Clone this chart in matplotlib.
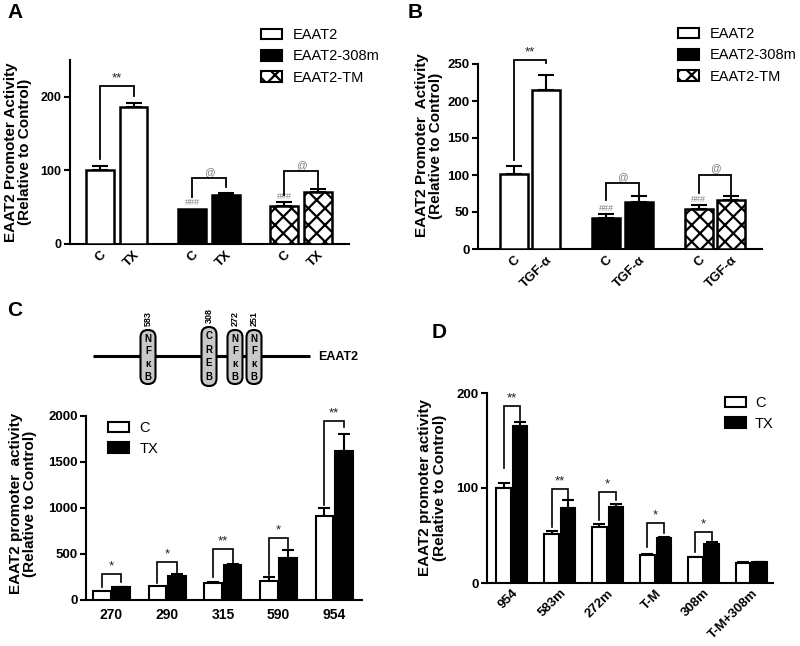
import matplotlib
matplotlib.use('Agg')
import matplotlib.pyplot as plt
import numpy as np
from matplotlib.patches import FancyBboxPatch, Patch

plt.rcParams['font.family'] = ['Liberation Sans', 'DejaVu Sans']
plt.rcParams['hatch.linewidth'] = 1.6
plt.rcParams['axes.linewidth'] = 1.5

# ---------------- data ----------------
# Panel A
a_series = ['EAAT2', 'EAAT2-308m', 'EAAT2-TM']
a_ticks = ['C', 'TX']
a_ctrl = [100, 48, 52]
a_ctrl_err = [6, 0, 5]
a_trt = [186, 67, 71]
a_trt_err = [5, 2, 3]
a_brackets = [(115, 201, 214, '**'), (64, 77, 89, '@'), (67, 77, 99, '@')]
a_hash = ['', '###', '###']

# Panel B
b_series = ['EAAT2', 'EAAT2-308m', 'EAAT2-TM']
b_ticks = ['C', 'TGF-α']
b_ctrl = [101, 42, 54]
b_ctrl_err = [11, 5, 5]
b_trt = [215, 64, 66]
b_trt_err = [20, 7, 5]
b_brackets = [(120, 251, 256, '**'), (66, 72, 89, '@'), (76, 72, 100, '@')]
b_hash = ['', '###', '###']

# Panel C
c_constructs = ['270', '290', '315', '590', '954']
c_ctrl = [100, 155, 185, 205, 910]
c_ctrl_err = [0, 0, 10, 40, 95]
c_trt = [140, 260, 380, 460, 1615]
c_trt_err = [5, 20, 10, 80, 185]
c_brackets = [(141, 196, 283, '*'), (185, 293, 413, '*'), (250, 391, 554, '**'),
              (272, 565, 674, '*'), (1032, 1880, 1945, '**')]
c_legend = ['C', 'TX']
site_numbers = ['583', '308', '272', '251']
site_factors = ['NFκB', 'CREB', 'NFκB', 'NFκB']

# Panel D
d_constructs = ['954', '583m', '272m', 'T-M', '308m', 'T-M+308m']
d_ctrl = [100, 52, 59, 30, 27, 21]
d_ctrl_err = [5, 3, 3, 0.5, 0.5, 1]
d_trt = [165, 79, 80, 47, 41, 22]
d_trt_err = [4, 8, 3, 1, 2, 0.5]
d_brackets = [(121, 172, 186, '**'), (59, 87, 99, '**'), (66, 87, 96, '*'),
              (38, 53, 63, '*'), (33, 45, 54, '*')]
d_legend = ['C', 'TX']

# ---------------- helpers ----------------
W, H = 800, 646
fig = plt.figure(figsize=(W / 100, H / 100), dpi=100)


def px_axes(l, r, top, bottom):
    return fig.add_axes([l / W, 1 - bottom / H, (r - l) / W, (bottom - top) / H])


def style_axes(ax, ymax_spine, yticks, fs=9.5, xfs=9.5):
    ax.spines['top'].set_visible(False)
    ax.spines['right'].set_visible(False)
    ax.spines['left'].set_bounds(0, ymax_spine)
    ax.set_yticks(yticks)
    ax.tick_params(axis='y', length=4, width=1.5, labelsize=fs, pad=2)
    ax.tick_params(axis='x', length=0, labelsize=xfs)
    for t in ax.get_yticklabels() + ax.get_xticklabels():
        t.set_fontweight('bold')
    ax.set_facecolor('none')


def errs(ax, x, y, e, capsize):
    x = np.asarray(x, float); y = np.asarray(y, float); e = np.asarray(e, float)
    m = e > 0
    ax.errorbar(x[m], y[m], yerr=[np.zeros(m.sum()), e[m]], fmt='none',
                ecolor='black', elinewidth=1.5, capsize=capsize, capthick=1.5, zorder=2)


def bracket(ax, x1, x2, y1, y2, ytop, label, color, fs, lw=1.3):
    ax.plot([x1, x1, x2, x2], [y1, ytop, ytop, y2], color='black', lw=lw,
            clip_on=False, zorder=4, solid_joinstyle='miter')
    ax.annotate(label, ((x1 + x2) / 2, ytop), xytext=(0, 1), textcoords='offset points',
                ha='center', va='bottom', fontsize=fs, color=color, annotation_clip=False)


group_styles = [('white', None), ('black', None), ('white', 'xx')]


def grouped_panel(ax, ctrl, ctrl_err, trt, trt_err, ticks, brackets, hashes,
                  off, width, capsize):
    g = np.arange(len(ctrl))
    for i in g:
        fc, hatch = group_styles[i]
        ax.bar([i - off, i + off], [ctrl[i], trt[i]], width=width, color=fc,
               edgecolor='black', linewidth=1.8, hatch=hatch, zorder=3)
    errs(ax, g - off, ctrl, ctrl_err, capsize)
    errs(ax, g + off, trt, trt_err, capsize)
    for i, (yl, yr, yt, lab) in enumerate(brackets):
        col = '#222222' if '*' in lab else '#808080'
        fs = 9.5 if '*' in lab else 7.5
        bracket(ax, i - off, i + off, yl, yr, yt, lab, col, fs)
    for i, h in enumerate(hashes):
        if h:
            ax.annotate(h, (i - off, ctrl[i] + ctrl_err[i]), xytext=(0, 1),
                        textcoords='offset points', ha='center', va='bottom',
                        fontsize=6.5, color='#808080')
    pos = np.ravel([[i - off, i + off] for i in g])
    ax.set_xticks(pos)
    ax.set_xticklabels(ticks * len(g), rotation=45, ha='right', rotation_mode='anchor')


YL_FS = 11

# ---------------- Panel A ----------------
axA = px_axes(70, 349, 59.8, 244)
axA.set_xlim(-0.508, 2.52)
axA.set_ylim(0, 250)
grouped_panel(axA, a_ctrl, a_ctrl_err, a_trt, a_trt_err, a_ticks, a_brackets, a_hash,
              0.182, 0.30, 6)
style_axes(axA, 250, [0, 100, 200], fs=9, xfs=9.5)
axA.set_ylabel('EAAT2 Promoter Activity\n(Relative to Control)', fontsize=YL_FS,
               fontweight='bold', labelpad=6, linespacing=1.05)
axA.legend(handles=[Patch(facecolor=fc, edgecolor='black', hatch=h, linewidth=1.5)
                    for fc, h in group_styles], labels=a_series,
           loc='upper left', bbox_to_anchor=(261 / W, 1 - 28 / H),
           bbox_transform=fig.transFigure, frameon=False, fontsize=10.5,
           handlelength=1.45, handleheight=0.75, handletextpad=0.7,
           labelspacing=0.5, borderpad=0, borderaxespad=0)

# ---------------- Panel B ----------------
axB = px_axes(478, 762, 41.8, 249)
axB.set_xlim(-0.562, 2.508)
axB.set_ylim(0, 280)
grouped_panel(axB, b_ctrl, b_ctrl_err, b_trt, b_trt_err, b_ticks, b_brackets, b_hash,
              0.176, 0.30, 6)
style_axes(axB, 250, [0, 50, 100, 150, 200, 250])
axB.set_ylabel('EAAT2 Promoter  Activity\n(Relative to Control)', fontsize=YL_FS,
               fontweight='bold', labelpad=3, linespacing=1.05)
axB.legend(handles=[Patch(facecolor=fc, edgecolor='black', hatch=h, linewidth=1.5)
                    for fc, h in group_styles], labels=b_series,
           loc='upper left', bbox_to_anchor=(678 / W, 1 - 27 / H),
           bbox_transform=fig.transFigure, frameon=False, fontsize=10.5,
           handlelength=1.45, handleheight=0.75, handletextpad=0.7,
           labelspacing=0.5, borderpad=0, borderaxespad=0)


def paired_panel(ax, labels, ctrl, ctrl_err, trt, trt_err, brackets, off, width, capsize,
                 rot):
    g = np.arange(len(labels))
    ax.bar(g - off, ctrl, width=width, color='white', edgecolor='black', linewidth=1.5,
           zorder=3)
    ax.bar(g + off, trt, width=width, color='black', edgecolor='black', linewidth=1.5,
           zorder=3)
    errs(ax, g - off, ctrl, ctrl_err, capsize)
    errs(ax, g + off, trt, trt_err, capsize)
    for i, (yl, yr, yt, lab) in enumerate(brackets):
        bracket(ax, i - off, i + off, yl, yr, yt, lab, '#222222', 9.5, lw=1.2)
    ax.set_xticks(g)
    if rot:
        ax.set_xticklabels(labels, rotation=45, ha='right', rotation_mode='anchor')
    else:
        ax.set_xticklabels(labels)


# ---------------- Panel C ----------------
axC = px_axes(86, 362, 406.8, 600)
axC.set_xlim(-0.458, 4.50)
axC.set_ylim(0, 2100)
paired_panel(axC, c_constructs, c_ctrl, c_ctrl_err, c_trt, c_trt_err, c_brackets,
             0.175, 0.32, 4.5, False)
style_axes(axC, 2000, [0, 500, 1000, 1500, 2000], fs=9.5, xfs=10)
axC.tick_params(axis='x', pad=6)
axC.set_ylabel('EAAT2 promoter  activity\n(Relative to Control)', fontsize=YL_FS,
               fontweight='bold', labelpad=8, linespacing=1.05)
axC.legend(handles=[Patch(facecolor='white', edgecolor='black', linewidth=1.5),
                    Patch(facecolor='black', edgecolor='black', linewidth=1.5)],
           labels=c_legend, loc='upper left', bbox_to_anchor=(108 / W, 1 - 421 / H),
           bbox_transform=fig.transFigure, frameon=False, fontsize=10.5,
           handlelength=1.45, handleheight=0.75, handletextpad=0.7,
           labelspacing=0.45, borderpad=0, borderaxespad=0)

# ---------------- Panel D ----------------
axD = px_axes(487, 773, 393, 583)
axD.set_xlim(-0.517, 5.45)
axD.set_ylim(0, 200)
paired_panel(axD, d_constructs, d_ctrl, d_ctrl_err, d_trt, d_trt_err, d_brackets,
             0.17, 0.30, 4.5, True)
style_axes(axD, 200, [0, 100, 200])
axD.tick_params(axis='x', pad=3)
axD.set_ylabel('EAAT2 promoter activity\n(Relative to Control)', fontsize=YL_FS,
               fontweight='bold', labelpad=7, linespacing=1.05)
axD.legend(handles=[Patch(facecolor='white', edgecolor='black', linewidth=1.5),
                    Patch(facecolor='black', edgecolor='black', linewidth=1.5)],
           labels=d_legend, loc='upper left', bbox_to_anchor=(725 / W, 1 - 396 / H),
           bbox_transform=fig.transFigure, frameon=False, fontsize=10.5,
           handlelength=1.45, handleheight=0.75, handletextpad=0.6,
           labelspacing=0.45, borderpad=0, borderaxespad=0)

# ---------------- promoter diagram (panel C) ----------------
ov = fig.add_axes([0, 0, 1, 1], zorder=-1)
ov.set_xlim(0, W)
ov.set_ylim(H, 0)
ov.axis('off')
ov.plot([93, 310], [356, 356], color='black', lw=2.2, solid_capstyle='butt')
ov.text(318, 357, 'EAAT2', fontsize=9, fontweight='bold', va='center', ha='left')
site_x = [148, 209, 235, 254]
for x, num, fac in zip(site_x, site_numbers, site_factors):
    tall = fac == 'CREB'
    top, bot = (327, 386) if tall else (330, 384)
    ov.add_patch(FancyBboxPatch((x - 7.5, top), 15, bot - top,
                                boxstyle='round,pad=0,rounding_size=7.4',
                                facecolor='#c8c8c8', edgecolor='black', lw=1.5, zorder=3))
    for k, ch in enumerate(fac):
        ov.text(x, top + 9 + k * 12.5 * (bot - top) / 54, ch, fontsize=7,
                fontweight='bold', ha='center', va='center', zorder=4)
    ov.text(x, top - 4, num, rotation=90, fontsize=6.5, fontweight='bold',
            ha='center', va='bottom')

# panel letters
for lab, x, y in [('A', 7, 13), ('B', 408, 13), ('C', 7, 310), ('D', 432, 332)]:
    fig.text(x / W, 1 - y / H, lab, fontsize=15, fontweight='bold', va='center',
             ha='left')

fig.savefig('out.png', dpi=100)
